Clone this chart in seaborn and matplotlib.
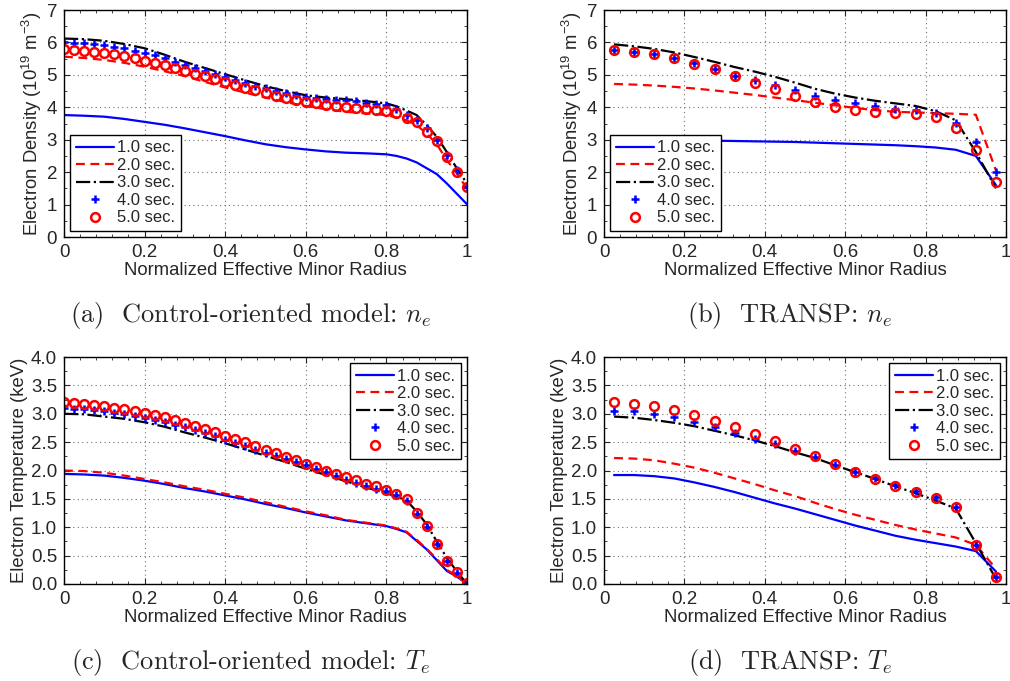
import matplotlib
matplotlib.use("Agg")
import matplotlib.pyplot as plt
import seaborn as sns
from matplotlib.ticker import AutoMinorLocator, MultipleLocator, FormatStrFormatter

# radial grids
RHO_MODEL = [0.0, 0.025, 0.05, 0.075, 0.1, 0.125, 0.15, 0.175, 0.2, 0.225,
             0.25, 0.275, 0.3, 0.325, 0.35, 0.375, 0.4, 0.425, 0.45, 0.475,
             0.5, 0.525, 0.55, 0.575, 0.6, 0.625, 0.65, 0.675, 0.7, 0.725,
             0.75, 0.775, 0.8, 0.825, 0.85, 0.875, 0.9, 0.925, 0.95, 0.975, 1.0]
RHO_MODEL_LINE = [0.0, 0.05, 0.1, 0.15, 0.2, 0.25, 0.3, 0.35, 0.4, 0.45, 0.5,
                  0.55, 0.6, 0.65, 0.7, 0.75, 0.8, 0.825, 0.85, 0.875, 0.9,
                  0.925, 0.95, 0.975, 1.0]
RHO_TRANSP = [0.025, 0.075, 0.125, 0.175, 0.225, 0.275, 0.325, 0.375, 0.425, 0.475,
              0.525, 0.575, 0.625, 0.675, 0.725, 0.775, 0.825, 0.875, 0.925, 0.975]

LABELS = ["1.0 sec.", "2.0 sec.", "3.0 sec.", "4.0 sec.", "5.0 sec."]

# (a) control-oriented model, electron density
NE_MODEL_1 = [3.76, 3.74, 3.71, 3.64, 3.55, 3.46, 3.35, 3.23, 3.11, 2.98, 2.86, 2.77, 2.70,
              2.64, 2.60, 2.58, 2.55, 2.50, 2.42, 2.30, 2.12, 1.94, 1.65, 1.33, 1.01]
NE_MODEL_2 = [5.56, 5.52, 5.46, 5.37, 5.25, 5.11, 4.96, 4.78, 4.61, 4.45, 4.30, 4.16, 4.04,
              3.94, 3.86, 3.81, 3.76, 3.69, 3.60, 3.45, 3.19, 2.86, 2.37, 1.96, 1.49]
NE_MODEL_3 = [6.12, 6.10, 6.05, 5.95, 5.82, 5.62, 5.40, 5.21, 5.02, 4.83, 4.65, 4.50, 4.37,
              4.30, 4.25, 4.19, 4.12, 4.03, 3.90, 3.76, 3.45, 3.09, 2.62, 2.11, 1.65]
NE_MODEL_4 = [6.00, 5.99, 5.97, 5.95, 5.92, 5.87, 5.82, 5.75, 5.68, 5.60, 5.52, 5.41, 5.30,
              5.21, 5.12, 5.03, 4.94, 4.85, 4.76, 4.67, 4.58, 4.51, 4.44, 4.38, 4.32, 4.28,
              4.26, 4.24, 4.22, 4.18, 4.14, 4.11, 4.07, 3.96, 3.76, 3.60, 3.35, 2.99, 2.52,
              2.06, 1.54]
NE_MODEL_5 = [5.79, 5.77, 5.75, 5.72, 5.68, 5.63, 5.58, 5.52, 5.44, 5.37, 5.29, 5.21, 5.13,
              5.04, 4.96, 4.87, 4.79, 4.70, 4.61, 4.52, 4.43, 4.36, 4.29, 4.22, 4.17, 4.12,
              4.08, 4.04, 4.01, 3.98, 3.95, 3.92, 3.88, 3.83, 3.68, 3.56, 3.25, 2.96, 2.48,
              2.01, 1.53]

# (b) TRANSP, electron density
NE_TRANSP_1 = [3.00, 3.00, 2.99, 2.99, 2.98, 2.97, 2.96, 2.95, 2.94, 2.93, 2.91, 2.89, 2.87,
               2.85, 2.83, 2.80, 2.76, 2.69, 2.50, 1.60]
NE_TRANSP_2 = [4.72, 4.70, 4.67, 4.63, 4.58, 4.52, 4.45, 4.38, 4.30, 4.22, 4.14, 4.06, 3.98,
               3.91, 3.86, 3.84, 3.82, 3.80, 3.77, 2.05]
NE_TRANSP_3 = [5.94, 5.88, 5.80, 5.69, 5.55, 5.40, 5.24, 5.10, 4.94, 4.76, 4.57, 4.42, 4.30,
               4.20, 4.12, 4.04, 3.88, 3.60, 2.62, 1.50]
NE_TRANSP_4 = [5.78, 5.72, 5.65, 5.52, 5.36, 5.18, 4.98, 4.84, 4.68, 4.53, 4.35, 4.22, 4.12,
               4.04, 3.96, 3.93, 3.83, 3.53, 2.93, 2.01]
NE_TRANSP_5 = [5.77, 5.71, 5.63, 5.51, 5.35, 5.18, 4.96, 4.76, 4.55, 4.35, 4.17, 4.01, 3.91,
               3.85, 3.81, 3.79, 3.69, 3.35, 2.68, 1.70]

# (c) control-oriented model, electron temperature
TE_MODEL_1 = [1.94, 1.93, 1.91, 1.87, 1.82, 1.76, 1.69, 1.63, 1.56, 1.49, 1.41, 1.34, 1.26,
              1.19, 1.12, 1.07, 1.02, 0.97, 0.91, 0.76, 0.61, 0.42, 0.23, 0.13, 0.0]
TE_MODEL_2 = [2.00, 1.99, 1.96, 1.91, 1.85, 1.79, 1.72, 1.66, 1.59, 1.52, 1.44, 1.36, 1.28,
              1.21, 1.13, 1.08, 1.03, 0.98, 0.92, 0.78, 0.62, 0.44, 0.25, 0.14, 0.0]
TE_MODEL_3 = [3.00, 2.99, 2.95, 2.91, 2.85, 2.77, 2.67, 2.58, 2.48, 2.37, 2.26, 2.15, 2.03,
              1.92, 1.81, 1.70, 1.60, 1.54, 1.47, 1.28, 1.05, 0.75, 0.46, 0.22, 0.0]
TE_MODEL_4 = [3.10, 3.09, 3.08, 3.06, 3.04, 3.01, 2.99, 2.96, 2.93, 2.89, 2.86, 2.81, 2.77,
              2.72, 2.66, 2.60, 2.54, 2.48, 2.43, 2.37, 2.31, 2.26, 2.20, 2.15, 2.09, 2.03,
              1.97, 1.90, 1.84, 1.78, 1.73, 1.68, 1.63, 1.56, 1.47, 1.24, 1.00, 0.71, 0.40,
              0.19, 0.01]
TE_MODEL_5 = [3.21, 3.19, 3.18, 3.16, 3.14, 3.11, 3.08, 3.05, 3.02, 2.98, 2.94, 2.89, 2.84,
              2.79, 2.73, 2.67, 2.61, 2.56, 2.50, 2.43, 2.37, 2.30, 2.24, 2.18, 2.11, 2.06,
              2.00, 1.93, 1.88, 1.83, 1.77, 1.72, 1.66, 1.59, 1.49, 1.25, 1.02, 0.71, 0.40,
              0.21, 0.02]

# (d) TRANSP, electron temperature
TE_TRANSP_1 = [1.92, 1.92, 1.90, 1.86, 1.79, 1.71, 1.62, 1.52, 1.42, 1.33, 1.23, 1.13, 1.03,
               0.94, 0.85, 0.78, 0.72, 0.66, 0.58, 0.22]
TE_TRANSP_2 = [2.22, 2.21, 2.18, 2.12, 2.05, 1.96, 1.86, 1.76, 1.65, 1.55, 1.43, 1.32, 1.22,
               1.13, 1.04, 0.96, 0.89, 0.82, 0.69, 0.27]
TE_TRANSP_3 = [2.95, 2.93, 2.89, 2.84, 2.78, 2.70, 2.62, 2.53, 2.43, 2.32, 2.22, 2.09, 1.97,
               1.85, 1.72, 1.60, 1.47, 1.33, 0.72, 0.09]
TE_TRANSP_4 = [3.05, 3.04, 3.00, 2.94, 2.86, 2.77, 2.66, 2.56, 2.46, 2.34, 2.24, 2.10, 1.97,
               1.86, 1.74, 1.63, 1.53, 1.35, 0.68, 0.12]
TE_TRANSP_5 = [3.21, 3.18, 3.13, 3.07, 2.98, 2.88, 2.77, 2.65, 2.52, 2.38, 2.25, 2.11, 1.97,
               1.85, 1.73, 1.62, 1.52, 1.35, 0.69, 0.12]

sns.set_style("ticks")
plt.rcParams["font.family"] = ["Liberation Sans", "DejaVu Sans"]
plt.rcParams["mathtext.default"] = "regular"
plt.rcParams["xtick.direction"] = "in"
plt.rcParams["ytick.direction"] = "in"
plt.rcParams["xtick.top"] = True
plt.rcParams["ytick.right"] = True

W, H = 1010, 681
fig = plt.figure(figsize=(W / 100, H / 100), dpi=100)


def make_axes(left, top, right, bottom):
    return fig.add_axes([left / W, 1 - bottom / H, (right - left) / W, (bottom - top) / H])


def draw_panel(ax, line_x, marker_x, lines, markers, ylim, ystep, ylabel, yfmt, legend_loc):
    styles = [("blue", "-"), ("red", (0, (4, 2.5))), ("black", "-.")]
    for y, (c, ls), lab in zip(lines, styles, LABELS[:3]):
        sns.lineplot(x=line_x, y=y, ax=ax, color=c, linestyle=ls, linewidth=1.6, label=lab,
                     legend=False)
    sns.lineplot(x=marker_x, y=markers[0], ax=ax, color="blue", linestyle="none", marker="+",
                 markersize=6, markeredgecolor="blue", markeredgewidth=1.8,
                 label=LABELS[3], legend=False)
    sns.lineplot(x=marker_x, y=markers[1], ax=ax, color="red", linestyle="none", marker="o",
                 markersize=6.3, markerfacecolor="none", markeredgecolor="red",
                 markeredgewidth=1.8, label=LABELS[4], legend=False)

    ax.set_xlim(0, 1)
    ax.set_ylim(*ylim)
    ax.xaxis.set_major_locator(MultipleLocator(0.2))
    ax.xaxis.set_minor_locator(AutoMinorLocator(5))
    ax.yaxis.set_major_locator(MultipleLocator(ystep))
    ax.yaxis.set_minor_locator(AutoMinorLocator(2))
    ax.set_xticks([0, 0.2, 0.4, 0.6, 0.8, 1.0])
    ax.set_xticklabels(["0", "0.2", "0.4", "0.6", "0.8", "1"])
    ax.yaxis.set_major_formatter(FormatStrFormatter(yfmt))
    ax.tick_params(which="major", length=4, width=0.8, labelsize=13.5, pad=5)
    ax.tick_params(which="minor", length=2, width=0.6)
    ax.grid(True, which="major", linestyle=(0, (1, 3)), color="0.45", linewidth=0.8)
    for sp in ax.spines.values():
        sp.set_linewidth(1.0)
        sp.set_color("black")
    ax.set_xlabel("Normalized Effective Minor Radius", fontsize=13.3, labelpad=1)
    ax.set_ylabel(ylabel, fontsize=13.3, labelpad=2)
    leg = ax.legend(loc=legend_loc, fontsize=12, handlelength=2.3, handletextpad=0.2,
                    labelspacing=0.15, borderpad=0.35, borderaxespad=0.35,
                    fancybox=False, framealpha=1, edgecolor="black")
    leg.get_frame().set_linewidth(1.0)


ax_a = make_axes(64, 10, 467, 237)
ax_b = make_axes(604, 10, 1006, 237)
ax_c = make_axes(64, 357, 467, 584)
ax_d = make_axes(604, 357, 1006, 584)

ne_label = "Electron Density (10$^{19}$ m$^{-3}$)"
te_label = "Electron Temperature (keV)"

draw_panel(ax_a, RHO_MODEL_LINE, RHO_MODEL, [NE_MODEL_1, NE_MODEL_2, NE_MODEL_3],
           [NE_MODEL_4, NE_MODEL_5], (0, 7), 1, ne_label, "%d", "lower left")
draw_panel(ax_b, RHO_TRANSP, RHO_TRANSP, [NE_TRANSP_1, NE_TRANSP_2, NE_TRANSP_3],
           [NE_TRANSP_4, NE_TRANSP_5], (0, 7), 1, ne_label, "%d", "lower left")
draw_panel(ax_c, RHO_MODEL_LINE, RHO_MODEL, [TE_MODEL_1, TE_MODEL_2, TE_MODEL_3],
           [TE_MODEL_4, TE_MODEL_5], (0, 4), 0.5, te_label, "%.1f", "upper right")
draw_panel(ax_d, RHO_TRANSP, RHO_TRANSP, [TE_TRANSP_1, TE_TRANSP_2, TE_TRANSP_3],
           [TE_TRANSP_4, TE_TRANSP_5], (0, 4), 0.5, te_label, "%.1f", "upper right")

# sub-figure captions
captions = [
    (251, 315, r"(a)  Control-oriented model: $\mathit{n_e}$"),
    (790, 315, r"(b)  TRANSP: $\mathit{n_e}$"),
    (251, 662, r"(c)  Control-oriented model: $\mathit{T_e}$"),
    (790, 662, r"(d)  TRANSP: $\mathit{T_e}$"),
]
for cx, cy, txt in captions:
    fig.text(cx / W, 1 - cy / H, txt, ha="center", va="center", fontsize=19,
             fontfamily="cmr10", math_fontfamily="cm")

fig.savefig("out.png", dpi=100)
